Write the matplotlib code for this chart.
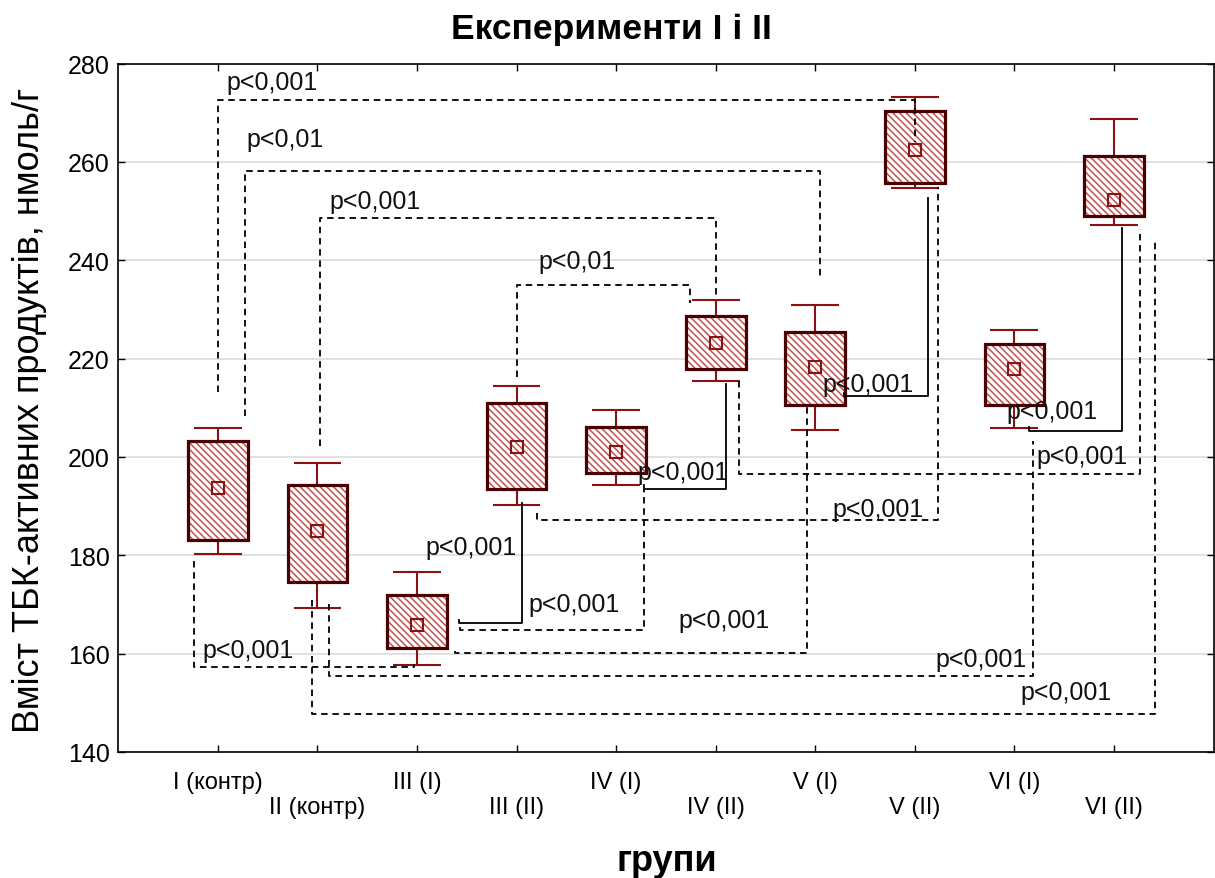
import matplotlib
matplotlib.use('Agg')
import matplotlib.pyplot as plt
import numpy as np

plt.rcParams['font.family'] = ['Liberation Sans', 'DejaVu Sans']
plt.rcParams['hatch.linewidth'] = 1.1

# ── Data: TBA-active products by group ─────────────────────
groups = ['I (контр)', 'II (контр)', 'III (I)', 'III (II)', 'IV (I)',
          'IV (II)', 'V (I)', 'V (II)', 'VI (I)', 'VI (II)']
means    = [193.6, 184.9, 165.9, 202.0, 201.1, 223.1, 218.2, 262.5, 217.8, 252.3]
box_lo   = [183.2, 174.6, 161.1, 193.4, 196.7, 217.9, 210.5, 255.7, 210.5, 249.0]
box_hi   = [203.2, 194.2, 171.9, 211.0, 206.0, 228.6, 225.5, 270.4, 223.0, 261.1]
whisk_lo = [180.2, 169.3, 157.7, 190.3, 194.2, 215.5, 205.4, 254.6, 205.8, 247.1]
whisk_hi = [205.8, 198.8, 176.7, 214.5, 209.6, 231.9, 230.9, 273.1, 225.8, 268.8]

# significance brackets: (x start, y start, x end, y end, level, solid?, label, label x, label y)
brackets = [
    (1.00, 213.2, 8.00, 264.0, 272.6, False, 'p<0,001', 1.09, 276.2),
    (1.27, 208.3, 7.05, 236.8, 258.2, False, 'p<0,01', 1.29, 264.6),
    (2.03, 202.2, 6.00, 232.8, 248.6, False, 'p<0,001', 2.12, 252.1),
    (4.00, 216.2, 5.74, 231.4, 235.0, False, 'p<0,01', 4.22, 239.9),
    (3.42, 166.9, 4.05, 190.7, 166.3, True, 'p<0,001', 3.08, 181.6),
    (3.43, 165.5, 5.28, 193.4, 164.8, False, 'p<0,001', 4.12, 170.0),
    (5.28, 194.3, 6.10, 214.8, 193.4, True, 'p<0,001', 5.21, 196.9),
    (4.21, 188.7, 8.23, 254.9, 187.1, False, 'p<0,001', 7.17, 189.4),
    (7.29, 212.9, 8.13, 252.6, 212.4, True, 'p<0,001', 7.07, 214.8),
    (6.23, 215.5, 10.26, 246.3, 196.5, False, 'p<0,001', 9.22, 200.1),
    (9.15, 206.1, 10.08, 246.6, 205.3, True, 'p<0,001', 8.92, 209.4),
    (3.38, 160.6, 6.92, 210.3, 160.2, False, 'p<0,001', 5.63, 166.9),
    (0.76, 178.8, 2.97, 157.8, 157.2, False, 'p<0,001', 0.85, 160.7),
    (2.12, 170.1, 9.19, 203.3, 155.4, False, 'p<0,001', 8.21, 158.9),
    (1.95, 171.0, 10.41, 244.3, 147.8, False, 'p<0,001', 9.06, 152.1),
]

BOX_EDGE = '#4a0000'
HATCH_C  = '#c05252'
WHISK_C  = '#8b1212'

fig = plt.figure(figsize=(12.15, 8.79), dpi=100)
ax = fig.add_axes([118.3 / 1215, 1 - 753 / 879,
                   (1213.5 - 118.3) / 1215, (753 - 64.5) / 879])

x = np.arange(1, len(groups) + 1)
lo = np.array(box_lo)
hi = np.array(box_hi)

# whiskers + caps
ax.vlines(x, hi, whisk_hi, color=WHISK_C, lw=1.5, zorder=2)
ax.vlines(x, whisk_lo, lo, color=WHISK_C, lw=1.5, zorder=2)
ax.hlines(whisk_hi, x - 0.24, x + 0.24, color=WHISK_C, lw=1.5, zorder=2)
ax.hlines(whisk_lo, x - 0.24, x + 0.24, color=WHISK_C, lw=1.5, zorder=2)

# hatched boxes, outline drawn separately so it stays dark
ax.bar(x, hi - lo, bottom=lo, width=0.6, facecolor='white',
       edgecolor=HATCH_C, hatch='\\' * 5, lw=0, zorder=3)
ax.bar(x, hi - lo, bottom=lo, width=0.6, fill=False,
       edgecolor=BOX_EDGE, lw=2.3, zorder=4)

# means
ax.plot(x, means, 's', ms=8.5, mfc='none', mec=WHISK_C, mew=1.5, zorder=5)

# brackets
for xa, ya, xb, yb, lvl, solid, lab, lx, ly in brackets:
    ls = '-' if solid else (0, (3.6, 2.6))
    ax.plot([xa, xa, xb, xb], [ya, lvl, lvl, yb], color='black',
            lw=1.3, ls=ls, zorder=6)
    ax.text(lx, ly, lab, ha='left', va='center', fontsize=18,
            color='#111111', zorder=7)

ax.set_xlim(0, 11)
ax.set_ylim(140, 280)
ax.set_yticks(np.arange(140, 281, 20))
ax.set_xticks(x)
ax.set_xticklabels([g if i % 2 == 0 else '\n' + g for i, g in enumerate(groups)],
                   fontsize=17, linespacing=1.15)
ax.tick_params(axis='y', labelsize=18, pad=6)
ax.tick_params(direction='in', length=5, width=1, top=True, right=True,
               color='black')
ax.tick_params(axis='x', pad=14)
ax.yaxis.grid(True, color='#dcdcdc', lw=1.2)
ax.set_axisbelow(True)
for s in ax.spines.values():
    s.set_linewidth(1.2)

fig.text(0.503, 0.966, 'Експерименти I і II', ha='center', va='center',
         fontsize=25.5, fontweight='bold')
fig.text(667 / 1215, 1 - 862 / 879, 'групи', ha='center', va='center',
         fontsize=26, fontweight='bold')
fig.text(30 / 1215, 1 - 410 / 879, 'Вміст ТБК-активних продуктів, нмоль/г',
         ha='center', va='center', rotation=90, fontsize=26)

fig.savefig('out.png', dpi=100, facecolor='white')
